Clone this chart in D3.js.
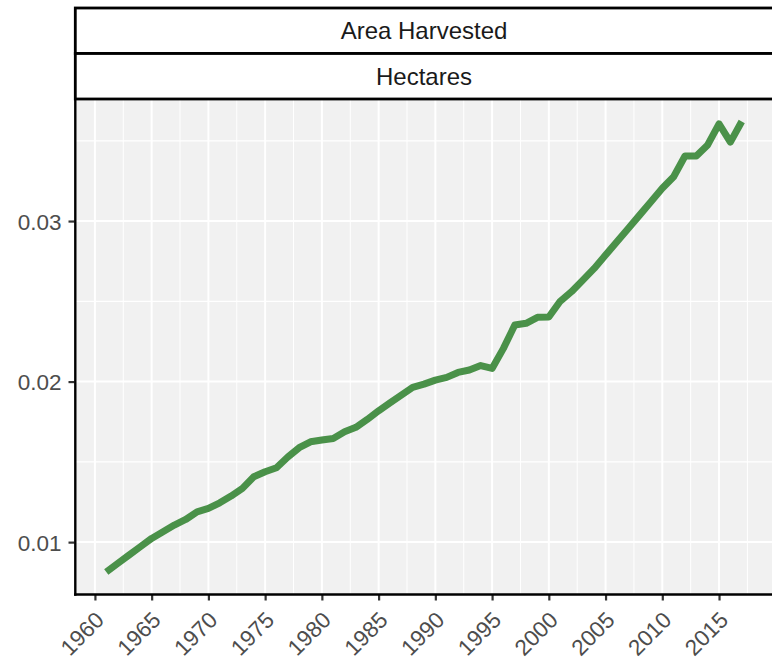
<!DOCTYPE html>
<html>
<head>
<meta charset="utf-8">
<script src="https://cdn.jsdelivr.net/npm/d3@7"></script>
<style>
  body { margin: 0; background: #fff; }
  text { font-family: "Liberation Sans", Arial, sans-serif; }
</style>
</head>
<body>
<script>
// Data
var years = d3.range(1961, 2018);
var values = [
  0.00814, 0.00867, 0.00919, 0.00971, 0.01023, 0.01064, 0.01106, 0.01141, 0.01189, 0.0121,
  0.01245, 0.01287, 0.01335, 0.01407, 0.01438, 0.01463, 0.01530, 0.01588, 0.01625, 0.01636,
  0.01646, 0.01687, 0.01715, 0.01764, 0.01818, 0.01868, 0.01916, 0.01964, 0.01984, 0.02009,
  0.02026, 0.02057, 0.02072, 0.02100, 0.02082, 0.02207, 0.02352, 0.02363, 0.02400, 0.02402,
  0.02500, 0.02560, 0.02632, 0.02705, 0.02788, 0.02871, 0.02954, 0.03037, 0.03120, 0.03204,
  0.03276, 0.03405, 0.03405, 0.03474, 0.03605, 0.03492, 0.03620
];
var stripLabels = ["Area Harvested", "Hectares"];
var xTicks = [1960, 1965, 1970, 1975, 1980, 1985, 1990, 1995, 2000, 2005, 2010, 2015];
var yTicks = [0.01, 0.02, 0.03];

var data = years.map(function (y, i) { return { year: y, value: values[i] }; });

var svgWidth = 772;
var svgHeight = 660;

var panel = { left: 74.5, right: 773.5, top: 99, bottom: 594.5 };

var svg = d3.select("body")
  .append("svg")
  .attr("width", svgWidth)
  .attr("height", svgHeight);

// scales with ggplot-like 5% expansion
var xExt = d3.extent(years);
var xPad = (xExt[1] - xExt[0]) * 0.05;
var x = d3.scaleLinear()
  .domain([xExt[0] - xPad, xExt[1] + xPad])
  .range([panel.left, panel.right]);

var yExt = d3.extent(values);
var yPad = (yExt[1] - yExt[0]) * 0.05;
var y = d3.scaleLinear()
  .domain([yExt[0] - yPad, yExt[1] + yPad])
  .range([panel.bottom, panel.top]);

// panel background
svg.append("rect")
  .attr("x", panel.left)
  .attr("y", panel.top)
  .attr("width", panel.right - panel.left)
  .attr("height", panel.bottom - panel.top)
  .attr("fill", "#f1f1f1");

// minor grid
var xMinor = xTicks.map(function (t) { return t + 2.5; }).concat([1957.5]);
var yMinor = [0.005, 0.015, 0.025, 0.035];
var grid = svg.append("g");

grid.selectAll(".xminor")
  .data(xMinor.filter(function (t) { return x(t) > panel.left && x(t) < panel.right; }))
  .enter().append("line")
  .attr("x1", d => x(d)).attr("x2", d => x(d))
  .attr("y1", panel.top).attr("y2", panel.bottom)
  .attr("stroke", "#fff").attr("stroke-width", 1);

grid.selectAll(".yminor")
  .data(yMinor.filter(function (t) { return y(t) > panel.top && y(t) < panel.bottom; }))
  .enter().append("line")
  .attr("x1", panel.left).attr("x2", panel.right)
  .attr("y1", d => y(d)).attr("y2", d => y(d))
  .attr("stroke", "#fff").attr("stroke-width", 1.2);

// major grid
grid.selectAll(".xmajor")
  .data(xTicks)
  .enter().append("line")
  .attr("x1", d => x(d)).attr("x2", d => x(d))
  .attr("y1", panel.top).attr("y2", panel.bottom)
  .attr("stroke", "#fff").attr("stroke-width", 2);

grid.selectAll(".ymajor")
  .data(yTicks)
  .enter().append("line")
  .attr("x1", panel.left).attr("x2", panel.right)
  .attr("y1", d => y(d)).attr("y2", d => y(d))
  .attr("stroke", "#fff").attr("stroke-width", 2);

// the line
var line = d3.line()
  .x(d => x(d.year))
  .y(d => y(d.value));

svg.append("path")
  .datum(data)
  .attr("d", line)
  .attr("fill", "none")
  .attr("stroke", "#4a9149")
  .attr("stroke-width", 7)
  .attr("stroke-linejoin", "round");

// axes
var bottomAxis = d3.axisBottom(x)
  .tickValues(xTicks)
  .tickSize(6)
  .tickPadding(4)
  .tickFormat(d3.format("d"));

var xAxis = svg.append("g")
  .attr("transform", `translate(0, ${panel.bottom})`)
  .call(bottomAxis);

xAxis.select(".domain").remove();
xAxis.selectAll(".tick line").attr("stroke", "#333").attr("stroke-width", 2.2);
xAxis.selectAll(".tick text")
  .attr("fill", "#4d4d4d")
  .attr("font-size", 22.5)
  .attr("text-anchor", "end")
  .attr("y", 0)
  .attr("dy", 0)
  .attr("transform", "translate(10, 27) rotate(-45)");

var leftAxis = d3.axisLeft(y)
  .tickValues(yTicks)
  .tickSize(6)
  .tickPadding(7)
  .tickFormat(d3.format(".2f"));

var yAxis = svg.append("g")
  .attr("transform", `translate(${panel.left}, 0)`)
  .call(leftAxis);

yAxis.select(".domain").remove();
yAxis.selectAll(".tick line").attr("stroke", "#333").attr("stroke-width", 2.2);
yAxis.selectAll(".tick text")
  .attr("fill", "#4d4d4d")
  .attr("font-size", 22.5)
  .attr("dy", "0.36em");

// axis lines
svg.append("line")
  .attr("x1", panel.left + 0.8).attr("x2", panel.left + 0.8)
  .attr("y1", panel.top).attr("y2", panel.bottom + 1.2)
  .attr("stroke", "#000").attr("stroke-width", 2.4);

svg.append("line")
  .attr("x1", panel.left - 0.4).attr("x2", panel.right)
  .attr("y1", panel.bottom).attr("y2", panel.bottom)
  .attr("stroke", "#000").attr("stroke-width", 2.4);

// facet strips
var stripTop = 8;
var stripH = 45.5;
var strips = svg.append("g");

stripLabels.forEach(function (lab, i) {
  var y0 = stripTop + i * stripH;
  strips.append("rect")
    .attr("x", panel.left + 0.8)
    .attr("y", y0)
    .attr("width", panel.right - panel.left + 5)
    .attr("height", stripH)
    .attr("fill", "#fff")
    .attr("stroke", "#000")
    .attr("stroke-width", 2.8);
  strips.append("text")
    .attr("x", (panel.left + panel.right) / 2)
    .attr("y", y0 + stripH / 2)
    .attr("dy", "0.36em")
    .attr("text-anchor", "middle")
    .attr("font-size", 24)
    .attr("fill", "#1a1a1a")
    .text(lab);
});
</script>
</body>
</html>
